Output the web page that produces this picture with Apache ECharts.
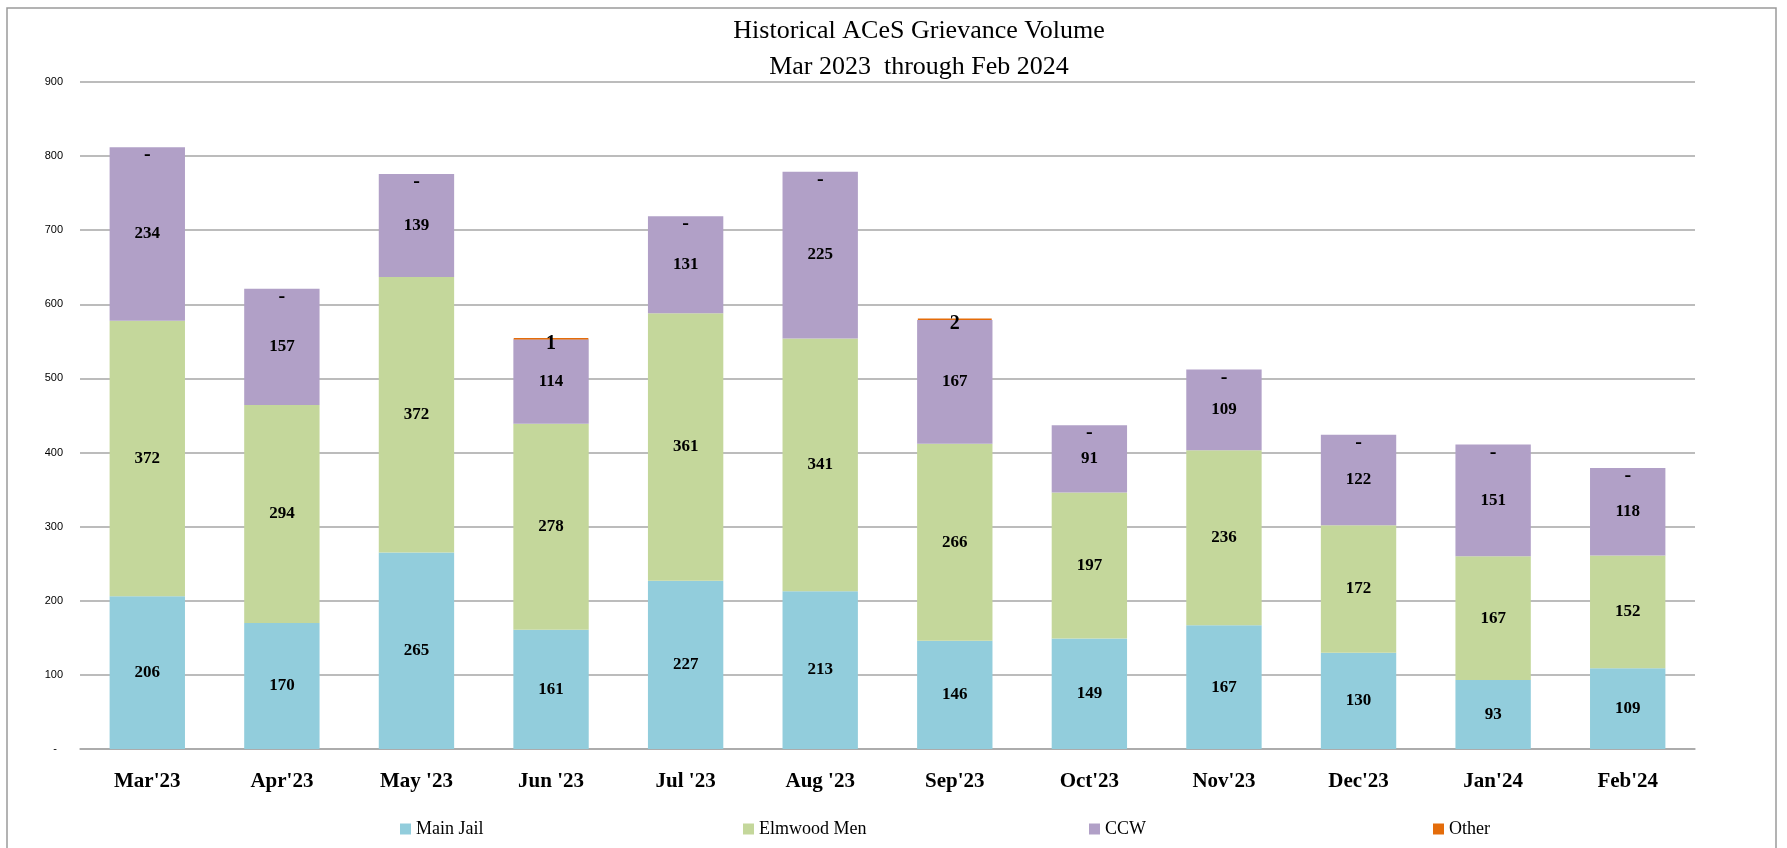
<!DOCTYPE html>
<html><head><meta charset="utf-8">
<script src="https://cdn.jsdelivr.net/npm/echarts@6/dist/echarts.min.js"></script>
<style>html,body{margin:0;padding:0;background:#fff}#c{width:1787px;height:848px}</style>
</head><body><div id="c"></div>
<script>
const categories = ["Mar'23","Apr'23","May '23","Jun '23","Jul '23","Aug '23","Sep'23","Oct'23","Nov'23","Dec'23","Jan'24","Feb'24"];
const mainJail   = [206,170,265,161,227,213,146,149,167,130,93,109];
const elmwoodMen = [372,294,372,278,361,341,266,197,236,172,167,152];
const ccw        = [234,157,139,114,131,225,167,91,109,122,151,118];
const other      = [0,0,0,1,0,0,2,0,0,0,0,0];
const yTicks     = [0,100,200,300,400,500,600,700,800,900];

const serif = '"Liberation Serif", "DejaVu Serif", serif';
const colors = {main:'#92CDDC', elm:'#C4D79B', ccw:'#B1A0C7', other:'#E46C0A'};

const segLabel = {show:true, position:'inside', color:'#000', fontFamily:serif, fontWeight:'bold', fontSize:17};

const chart = echarts.init(document.getElementById('c'));
function legendAt(name, x){
  return {data:[name], left:x, top:815, itemWidth:11, itemHeight:11, itemGap:5,
    icon:'rect', textStyle:{fontFamily:serif, fontSize:18, color:'#000'}, selectedMode:false};
}
chart.setOption({
  animation:false,
  backgroundColor:'#fff',
  title:{text:'Historical ACeS Grievance Volume\nMar 2023  through Feb 2024', left:914, top:8, textAlign:'center',
    textStyle:{fontFamily:serif, fontWeight:'normal', fontSize:26, lineHeight:36, color:'#000'}},
  graphic:[{type:'rect', shape:{x:7, y:8, width:1769, height:860}, style:{fill:'none', stroke:'#9a9a9a', lineWidth:1.5}, silent:true}],
  legend:[legendAt('Main Jail',395), legendAt('Elmwood Men',738), legendAt('CCW',1084), legendAt('Other',1428)],
  grid:{left:80, right:92, top:82, bottom:99},
  xAxis:{type:'category', data:categories,
    axisLine:{lineStyle:{color:'#a6a6a6', width:1.5}}, axisTick:{show:false},
    axisLabel:{fontFamily:serif, fontWeight:'bold', fontSize:21, color:'#000', margin:22}},
  yAxis:{type:'value', min:0, max:900, interval:100,
    axisLine:{show:false}, axisTick:{show:false},
    splitLine:{lineStyle:{color:'#a6a6a6', width:1.5}},
    axisLabel:{fontFamily:'"Liberation Sans", sans-serif', fontSize:11, color:'#000', margin:17,
      formatter:v => yTicks.includes(v) ? (v===0 ? '-  ' : String(v)) : ''}},
  series:[
    {name:'Main Jail', type:'bar', stack:'t', barWidth:'56%', data:mainJail, itemStyle:{color:colors.main}, label:segLabel},
    {name:'Elmwood Men', type:'bar', stack:'t', data:elmwoodMen, itemStyle:{color:colors.elm}, label:segLabel},
    {name:'CCW', type:'bar', stack:'t', data:ccw, itemStyle:{color:colors.ccw}, label:segLabel},
    {name:'Other', type:'bar', stack:'t', z:5,
      data:other.map(v => ({value:v,
        itemStyle: v>0 ? {borderColor:colors.other, borderWidth:1.5} : {},
        label: v>0 ? {offset:[0,5]} : {offset:[0,8]}})),
      itemStyle:{color:colors.other},
      label:{show:true, position:'inside', color:'#000', fontFamily:serif, fontWeight:'bold', fontSize:20,
        formatter:p => p.value===0 ? '-' : String(p.value)}}
  ]
});
</script></body></html>
